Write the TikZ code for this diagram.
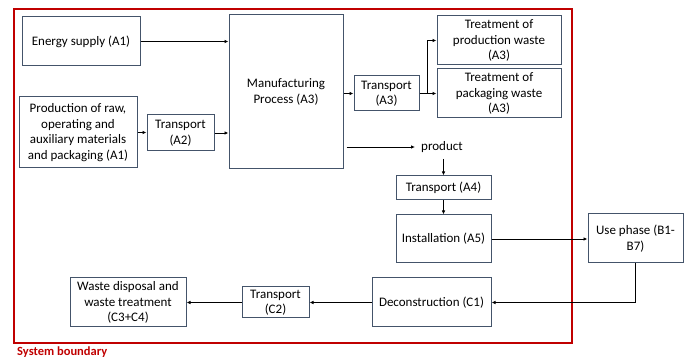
\documentclass[tikz,border=0pt]{standalone}
\usepackage{fontspec}
\setmainfont{Carlito}
\usepackage{xcolor}
\usepackage{tikz}
\usetikzlibrary{arrows.meta,positioning}
\definecolor{boxline}{RGB}{68,84,106}
\definecolor{sysred}{RGB}{192,0,0}

\begin{document}
\begin{tikzpicture}[
  x=1pt, y=-1pt,
  box/.style={rectangle, draw=boxline, line width=1pt, fill=white, align=center, inner sep=2pt, font=\fontsize{13}{15.5}\selectfont},
  arr/.style={-{Latex[length=4pt,width=3.5pt]}, line width=0.8pt},
  bound/.style={draw=sysred, line width=2pt}
]
\useasboundingbox (0,0) rectangle (689,358);
\draw[bound] (14,9) rectangle (572,343);
\node[anchor=north west, text=sysred, font=\fontsize{12.5}{14}\selectfont\bfseries, inner sep=0pt] (sysb) at (17,346.5) {System boundary};

\node[box, minimum width=118pt, minimum height=49pt] (energy) at (81,41.5) {Energy supply (A1)};
\node[box, minimum width=118pt, minimum height=71pt] (raw) at (78,132.5) {Production of raw,\\operating and\\auxiliary materials\\and packaging (A1)};
\node[box, minimum width=67pt, minimum height=36pt] (trA2) at (180.5,133) {Transport\\(A2)};
\node[box, minimum width=114pt, minimum height=154pt] (manuf) at (286,92) {Manufacturing\\Process (A3)};
\node[box, minimum width=65pt, minimum height=35pt] (trA3) at (386.5,93.5) {Transport\\(A3)};
\node[box, minimum width=124pt, minimum height=49pt] (wprod) at (499,40.5) {Treatment of\\production waste\\(A3)};
\node[box, minimum width=124pt, minimum height=49pt] (wpack) at (499,93.5) {Treatment of\\packaging waste\\(A3)};
\node[inner sep=6pt, font=\fontsize{13}{15.5}\selectfont] (prod) at (442,147) {product};
\node[box, minimum width=95pt, minimum height=24pt] (trA4) at (443.5,188) {Transport (A4)};
\node[box, minimum width=95pt, minimum height=48pt] (inst) at (443.5,239) {Installation (A5)};
\node[box, minimum width=95pt, minimum height=49pt] (use) at (635.5,238.5) {Use phase (B1-\\B7)};
\node[box, minimum width=119pt, minimum height=49pt] (decon) at (431.5,302.5) {Deconstruction (C1)};
\node[box, minimum width=67pt, minimum height=31pt] (trC2) at (275.5,302.5) {Transport\\(C2)};
\node[box, minimum width=116pt, minimum height=49pt] (waste) at (128,302.5) {Waste disposal and\\waste treatment\\(C3+C4)};
\coordinate (br) at (427,93.5);

\draw[arr] (energy.east) -- (energy.east -| manuf.west);
\draw[arr] (raw.east) -- (raw.east -| trA2.west);
\draw[arr] (trA2.east) -- (trA2.east -| manuf.west);
\draw[arr] (trA3.west -| manuf.east) -- (trA3.west);
\draw[arr] (trA3.east) -- (wpack.west);
\draw[arr] (br) |- (wprod.west);
\draw[arr] ([xshift=3pt]manuf.east |- prod.west) -- (prod.west);
\draw[arr] (prod.south -| trA4.north) -- (trA4.north);
\draw[arr] (trA4.south) -- (inst.north);
\draw[arr] (inst.east) -- (inst.east -| use.west);
\draw[arr] (use.south) |- (decon.east);
\draw[arr] (decon.west) -- (trC2.east);
\draw[arr] (trC2.west) -- (waste.east);
\end{tikzpicture}
\end{document}
